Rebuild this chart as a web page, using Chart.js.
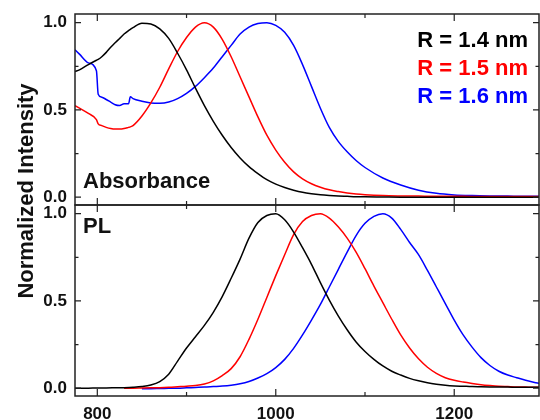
<!DOCTYPE html>
<html>
<head>
<meta charset="utf-8">
<script src="https://cdn.jsdelivr.net/npm/chart.js@4.4.0/dist/chart.umd.min.js"></script>
<style>
  body { margin: 0; background: #fff; }
  #wrap { position: relative; width: 540px; height: 420px; overflow: hidden; }
  canvas { position: absolute; left: 0; }
  #absChart { top: 0; }
  #plChart { top: 200px; }
  #yTitle {
    position: absolute; left: -106px; top: 180px; width: 260px; height: 22px;
    line-height: 22px; text-align: center; transform: rotate(-90deg);
    font: bold 22px "Liberation Sans", Arial, sans-serif; color: #111;
  }
</style>
</head>
<body>
<div id="wrap">
  <canvas id="absChart" width="540" height="206"></canvas>
  <canvas id="plChart" width="540" height="220"></canvas>
  <div id="yTitle">Normalized Intensity</div>
</div>
<script>
// absorbance spectra (nm -> normalized)
const absWavelength = [775, 780, 790, 799, 801, 805, 810, 815, 820, 825, 830, 835, 837, 840,
  850, 860, 870, 880, 890, 900, 910, 920, 930, 940, 950, 960, 970, 980, 990, 1000,
  1010, 1020, 1030, 1040, 1050, 1060, 1070, 1080, 1090, 1100,
  1120, 1140, 1160, 1180, 1200, 1220, 1240, 1260, 1280, 1295];
const absR14 = [0.72, 0.73, 0.76, 0.785, 0.79, 0.805, 0.83, 0.86, 0.885, 0.91, 0.935, 0.955, 0.962, 0.972,
  0.997, 0.993, 0.965, 0.91, 0.825, 0.73, 0.625, 0.525, 0.435, 0.355, 0.285, 0.225, 0.175, 0.135, 0.1, 0.075,
  0.055, 0.04, 0.028, 0.02, 0.014, 0.01, 0.007, 0.005, 0.003, 0.002,
  0.001, 0, 0, 0, 0, 0, 0, 0, 0, 0];
const absR15 = [0.525, 0.51, 0.48, 0.445, 0.42, 0.41, 0.4, 0.393, 0.39, 0.39, 0.393, 0.4, 0.403, 0.41,
  0.465, 0.54, 0.63, 0.735, 0.835, 0.915, 0.975, 1.0, 0.975, 0.905, 0.805, 0.69, 0.575, 0.46, 0.355, 0.27,
  0.2, 0.145, 0.105, 0.077, 0.057, 0.042, 0.032, 0.024, 0.018, 0.014,
  0.009, 0.007, 0.006, 0.005, 0.005, 0.004, 0.004, 0.004, 0.004, 0.004];
const absR16 = [0.845, 0.82, 0.77, 0.725, 0.59, 0.573, 0.56, 0.545, 0.53, 0.525, 0.535, 0.535, 0.575, 0.565,
  0.55, 0.54, 0.538, 0.545, 0.565, 0.595, 0.635, 0.685, 0.74, 0.805, 0.87, 0.935, 0.975, 0.995, 1.0, 0.985,
  0.945, 0.87, 0.76, 0.635, 0.51, 0.4, 0.32, 0.26, 0.21, 0.17,
  0.11, 0.07, 0.04, 0.022, 0.013, 0.009, 0.007, 0.006, 0.005, 0.005];

// photoluminescence spectra
const plWavelength = [775, 780, 790, 800, 810, 820, 830, 840, 850, 860, 870, 880, 890, 900,
  910, 920, 930, 940, 950, 960, 970, 980, 990, 1000, 1010, 1020, 1030, 1040, 1050, 1060,
  1070, 1080, 1090, 1100, 1110, 1120, 1130, 1140, 1150, 1160, 1170, 1180, 1190, 1200,
  1210, 1220, 1230, 1240, 1250, 1260, 1270, 1280, 1290, 1295];
const plR14 = [0, 0, 0, 0.001, 0.001, 0.002, 0.003, 0.005, 0.009, 0.018, 0.038, 0.08, 0.155, 0.23,
  0.295, 0.36, 0.435, 0.525, 0.63, 0.74, 0.86, 0.95, 0.99, 1.0, 0.965, 0.895, 0.805, 0.71, 0.605, 0.505,
  0.415, 0.335, 0.265, 0.21, 0.165, 0.127, 0.097, 0.075, 0.056, 0.042, 0.031, 0.023, 0.017, 0.013,
  0.011, 0.009, 0.008, 0.007, 0.006, 0.006, 0.005, 0.005, 0.005, 0.005];
const plR15 = [null, null, null, null, null, null, 0, 0, 0.001, 0.002, 0.003, 0.005, 0.008, 0.011,
  0.015, 0.024, 0.042, 0.072, 0.112, 0.18, 0.28, 0.395, 0.52, 0.645, 0.765, 0.88, 0.955, 0.99, 1.0, 0.975,
  0.925, 0.86, 0.78, 0.685, 0.585, 0.49, 0.395, 0.305, 0.23, 0.168, 0.12, 0.085, 0.06, 0.045,
  0.035, 0.027, 0.02, 0.015, 0.011, 0.009, 0.007, 0.006, 0.005, 0.005];
const plR16 = [null, null, null, null, null, null, null, null, -0.003, -0.003, -0.002, -0.001, 0, 0.002,
  0.004, 0.006, 0.009, 0.012, 0.017, 0.025, 0.038, 0.058, 0.083, 0.118, 0.165, 0.228, 0.305, 0.39, 0.48, 0.58,
  0.68, 0.78, 0.875, 0.945, 0.985, 1.0, 0.975, 0.91, 0.835, 0.765, 0.675, 0.58, 0.485, 0.39,
  0.305, 0.235, 0.175, 0.13, 0.097, 0.075, 0.06, 0.045, 0.033, 0.028];

const seriesLabels = ['R = 1.4 nm', 'R = 1.5 nm', 'R = 1.6 nm'];
const seriesColors = ['#000000', '#ff0000', '#0000ff'];
const xTickValues = [800, 1000, 1200];
const xMinorTicks = [900, 1100];
const yTickValues = [0, 0.5, 1.0];
const yMinorTicks = [0.25, 0.75];

const FONT = '"Liberation Sans", Arial, sans-serif';

function toPoints(xs, ys) {
  return xs.map((x, i) => ({ x: x, y: ys[i] }));
}

function makeDatasets(xs, seriesList) {
  return seriesList.map((ys, i) => ({
    label: seriesLabels[i],
    data: toPoints(xs, ys),
    borderColor: seriesColors[i],
    borderWidth: 1.5,
    pointRadius: 0,
    fill: false,
    cubicInterpolationMode: 'monotone'
  }));
}

// frame with inward ticks on all four sides, plus panel texts
const framePlugin = {
  id: 'frameTicks',
  afterDraw(chart, args, opts) {
    const { ctx, chartArea: a, scales } = chart;
    const x = scales.x, y = scales.y;
    ctx.save();
    ctx.strokeStyle = '#222';
    ctx.lineWidth = 1.5;
    ctx.strokeRect(a.left, a.top, a.right - a.left, a.bottom - a.top);
    ctx.lineWidth = 1.2;
    const vTick = (v, len) => {
      const px = x.getPixelForValue(v);
      ctx.beginPath();
      ctx.moveTo(px, a.bottom); ctx.lineTo(px, a.bottom - len);
      ctx.moveTo(px, a.top); ctx.lineTo(px, a.top + len);
      ctx.stroke();
    };
    const hTick = (v, len) => {
      const py = y.getPixelForValue(v);
      ctx.beginPath();
      ctx.moveTo(a.left, py); ctx.lineTo(a.left + len, py);
      ctx.moveTo(a.right, py); ctx.lineTo(a.right - len, py);
      ctx.stroke();
    };
    xTickValues.forEach(v => vTick(v, 7));
    xMinorTicks.forEach(v => vTick(v, 4));
    yTickValues.forEach(v => hTick(v, 6));
    yMinorTicks.forEach(v => hTick(v, 3.5));

    ctx.font = 'bold 22px ' + FONT;
    ctx.textBaseline = 'alphabetic';
    (opts.texts || []).forEach(t => {
      ctx.fillStyle = t.color;
      ctx.textAlign = t.align;
      ctx.fillText(t.text, t.x, t.y);
    });
    ctx.restore();
  }
};

function noScalePadding(s) {
  s.paddingTop = 0;
  s.paddingBottom = 0;
  s.paddingLeft = 0;
  s.paddingRight = 0;
}

function yScale() {
  return {
    type: 'linear',
    min: -0.045,
    max: 1.05,
    afterBuildTicks: s => { s.ticks = yTickValues.map(v => ({ value: v })); },
    afterFit: s => { s.width = 75; noScalePadding(s); },
    grid: { display: false, drawTicks: false },
    border: { display: false },
    ticks: {
      padding: 8,
      color: '#111',
      font: { family: FONT, size: 17, weight: 'bold' },
      callback: v => Number(v).toFixed(1)
    }
  };
}

function xScale(show) {
  return {
    type: 'linear',
    min: 775,
    max: 1295,
    display: show,
    afterBuildTicks: s => { s.ticks = xTickValues.map(v => ({ value: v })); },
    afterFit: s => { s.height = show ? 24 : 0; noScalePadding(s); },
    grid: { display: false, drawTicks: false },
    border: { display: false },
    ticks: {
      padding: 8,
      autoSkip: false,
      maxRotation: 0,
      color: '#111',
      font: { family: FONT, size: 17, weight: 'bold' },
      callback: v => String(v)
    }
  };
}

const legendTexts = seriesLabels.map((s, i) => ({
  text: s, color: seriesColors[i], align: 'right', x: 528, y: 47 + i * 28
}));

new Chart(document.getElementById('absChart'), {
  type: 'line',
  data: { datasets: makeDatasets(absWavelength, [absR14, absR15, absR16]) },
  options: {
    responsive: false,
    animation: false,
    devicePixelRatio: 1,
    layout: { padding: { top: 14, right: 1, bottom: 1, left: 0 } },
    scales: { x: xScale(false), y: yScale() },
    plugins: {
      legend: { display: false },
      tooltip: { enabled: false },
      frameTicks: {
        texts: [{ text: 'Absorbance', color: '#111', align: 'left', x: 83, y: 188 }].concat(legendTexts)
      }
    }
  },
  plugins: [framePlugin]
});

new Chart(document.getElementById('plChart'), {
  type: 'line',
  data: { datasets: makeDatasets(plWavelength, [plR14, plR15, plR16]) },
  options: {
    responsive: false,
    animation: false,
    devicePixelRatio: 1,
    layout: { padding: { top: 5, right: 1, bottom: 0, left: 0 } },
    scales: { x: xScale(true), y: yScale() },
    plugins: {
      legend: { display: false },
      tooltip: { enabled: false },
      frameTicks: {
        texts: [{ text: 'PL', color: '#111', align: 'left', x: 83, y: 33 }]
      }
    }
  },
  plugins: [framePlugin]
});
</script>
</body>
</html>
